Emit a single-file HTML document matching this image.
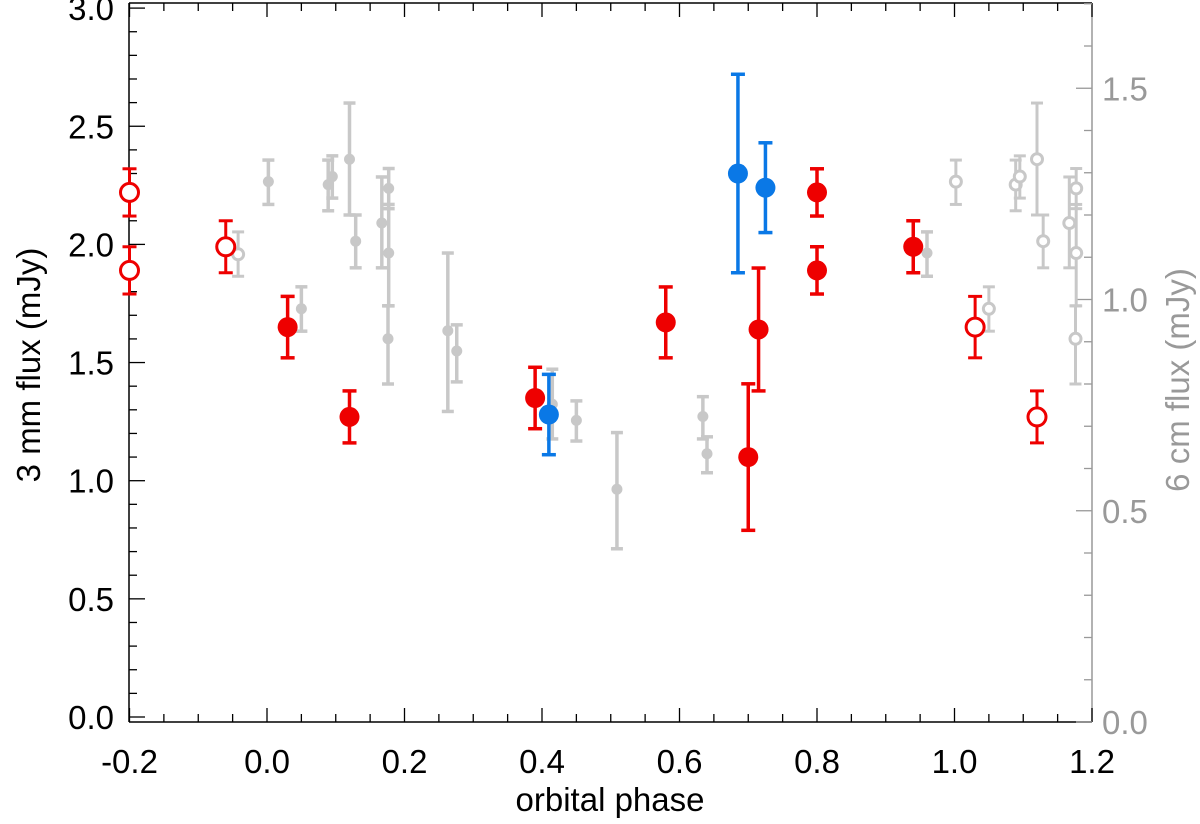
<!DOCTYPE html>
<html><head><meta charset="utf-8"><style>
html,body{margin:0;padding:0;background:#fff;}
svg{display:block;font-family:"Liberation Sans",Arial,sans-serif;}
</style></head><body>
<svg id="chart" width="1200" height="824" viewBox="0 0 1200 824"></svg>
<script>
// Red 3mm filled: phase, flux, lower, upper
const redPhase=[0.03,0.12,0.39,0.58,0.70,0.715,0.80,0.80,0.94];
const redFlux=[1.65,1.27,1.35,1.67,1.10,1.64,2.22,1.89,1.99];
const redLo=[1.52,1.16,1.22,1.52,0.79,1.38,2.12,1.79,1.88];
const redHi=[1.78,1.38,1.48,1.82,1.41,1.90,2.32,1.99,2.10];
// Red open (repeated cycle)
const redOpenPhase=[-0.20,-0.20,-0.06,1.03,1.12];
const redOpenFlux=[2.22,1.89,1.99,1.65,1.27];
const redOpenLo=[2.12,1.79,1.88,1.52,1.16];
const redOpenHi=[2.32,1.99,2.10,1.78,1.38];
// Blue
const bluePhase=[0.41,0.685,0.725];
const blueFlux=[1.28,2.30,2.24];
const blueLo=[1.11,1.88,2.05];
const blueHi=[1.45,2.72,2.43];
// Grey 6cm (right axis) filled
const greyPhase=[0.002,0.05,0.089,0.095,0.12,0.129,0.167,0.177,0.177,0.176,0.263,0.276,0.415,0.45,0.509,0.634,0.64,0.96];
const greyFlux=[1.279,0.978,1.272,1.291,1.332,1.138,1.181,1.263,1.11,0.907,0.926,0.878,0.752,0.714,0.551,0.723,0.635,1.11];
const greyLo=[1.225,0.925,1.210,1.240,1.200,1.075,1.075,1.215,0.985,0.80,0.735,0.805,0.67,0.665,0.41,0.67,0.59,1.055];
const greyHi=[1.330,1.030,1.330,1.340,1.465,1.200,1.290,1.310,1.225,0.985,1.110,0.940,0.835,0.760,0.685,0.770,0.675,1.160];
// Grey open
const greyOpenPhase=[-0.042,1.002,1.05,1.089,1.095,1.12,1.129,1.167,1.177,1.177,1.176];
const greyOpenFlux=[1.107,1.279,0.978,1.272,1.291,1.332,1.138,1.181,1.263,1.11,0.907];
const greyOpenLo=[1.055,1.225,0.925,1.210,1.240,1.200,1.075,1.075,1.215,0.985,0.80];
const greyOpenHi=[1.160,1.330,1.030,1.330,1.340,1.465,1.200,1.290,1.310,1.225,0.985];
const xTicks=[-0.2,0.0,0.2,0.4,0.6,0.8,1.0,1.2];
const yTicks=[0.0,0.5,1.0,1.5,2.0,2.5,3.0];
const y2Ticks=[0.0,0.5,1.0,1.5];

const L=129,R=1092,T=3,B=722;
const X=v=>267+(v-0.0)*687.5;
const Y=v=>717-v*236.3;
const Y2=v=>722-v*422.5;
const svg=document.getElementById('chart');
const NS='http://www.w3.org/2000/svg';
function mk(tag,attrs,parent){const e=document.createElementNS(NS,tag);for(const k in attrs)e.setAttribute(k,attrs[k]);(parent||svg).appendChild(e);return e;}

const frame=mk('g',{});


mk('line',{x1:L,y1:T,x2:R,y2:T,stroke:'#000','stroke-width':1.5},frame);
mk('line',{x1:L,y1:B,x2:R,y2:B,stroke:'#000','stroke-width':1.5},frame);
mk('line',{x1:L,y1:T,x2:L,y2:B,stroke:'#000','stroke-width':1.5},frame);
mk('line',{x1:R,y1:T,x2:R,y2:B,stroke:'#999','stroke-width':1.5},frame);

const xax=mk('g',{});


for(let i=0;i<=28;i++){const v=-0.2+i*0.05;const x=X(v);const len=(i%4===0)?14:8;
 mk('line',{x1:x,y1:B,x2:x,y2:B-len,stroke:'#000','stroke-width':1.3},xax);
 mk('line',{x1:x,y1:T,x2:x,y2:T+len,stroke:'#000','stroke-width':1.3},xax);}
xTicks.forEach(v=>{const t=mk('text',{x:X(v),y:773,'text-anchor':'middle','font-size':33,fill:'#000'},xax);t.textContent=v.toFixed(1);
 
 });
const xt=mk('text',{x:610,y:811,'text-anchor':'middle','font-size':33,fill:'#000'});
xt.textContent='orbital phase';



const yax=mk('g',{});


for(let i=0;i<=30;i++){const v=i*0.1;const y=Y(v);const len=(i%5===0)?16:8;
 mk('line',{x1:L,y1:y,x2:L+len,y2:y,stroke:'#000','stroke-width':1.3},yax);}
yTicks.forEach(v=>{const t=mk('text',{x:114,y:Y(v)+12,'text-anchor':'end','font-size':33,fill:'#000'},yax);t.textContent=v.toFixed(1);
 
 });
const yt=mk('text',{x:0,y:0,'text-anchor':'middle','font-size':33,fill:'#000',transform:'translate(40,365) rotate(-90)'});
yt.textContent='3 mm flux (mJy)';



const y2ax=mk('g',{});


for(let i=0;i<=17;i++){const v=i*0.1;const y=Y2(v);const len=(i%5===0)?16:8;
 mk('line',{x1:R,y1:y,x2:R-len,y2:y,stroke:'#999','stroke-width':1.3},y2ax);}
y2Ticks.forEach(v=>{const t=mk('text',{x:1102,y:Y2(v)+12,'text-anchor':'start','font-size':33,fill:'#999'},y2ax);t.textContent=v.toFixed(1);
 
 });
const y2t=mk('text',{x:0,y:0,'text-anchor':'middle','font-size':33,fill:'#999',transform:'translate(1189,380) rotate(-90)'});
y2t.textContent='6 cm flux (mJy)';



function series(name,ph,fl,lo,hi,yf,color,r,open,cap,sw){
 const g=mk('g',{});
 
 
 ph.forEach((p,i)=>{const x=X(p);
  const e=mk('g',{},g);
  
  
  mk('line',{x1:x,y1:yf(lo[i]),x2:x,y2:yf(hi[i]),stroke:color,'stroke-width':sw},e);
  mk('line',{x1:x-cap,y1:yf(lo[i]),x2:x+cap,y2:yf(lo[i]),stroke:color,'stroke-width':sw},e);
  mk('line',{x1:x-cap,y1:yf(hi[i]),x2:x+cap,y2:yf(hi[i]),stroke:color,'stroke-width':sw},e);
  if(open) mk('circle',{cx:x,cy:yf(fl[i]),r:r,fill:'#fff',stroke:color,'stroke-width':sw},e);
  else mk('circle',{cx:x,cy:yf(fl[i]),r:r,fill:color},e);
 });
}
series('grey-6cm-series',greyPhase,greyFlux,greyLo,greyHi,Y2,'#c8c8c8',5.5,false,6,3.5);
series('grey-6cm-open-series',greyOpenPhase,greyOpenFlux,greyOpenLo,greyOpenHi,Y2,'#c8c8c8',5.5,true,6,3);
series('red-3mm-series',redPhase,redFlux,redLo,redHi,Y,'#ee0000',10,false,7,3.5);
series('red-3mm-open-series',redOpenPhase,redOpenFlux,redOpenLo,redOpenHi,Y,'#ee0000',9,true,7,3);
series('blue-3mm-series',bluePhase,blueFlux,blueLo,blueHi,Y,'#0a78e6',10,false,7,3.5);
</script>
</body></html>
